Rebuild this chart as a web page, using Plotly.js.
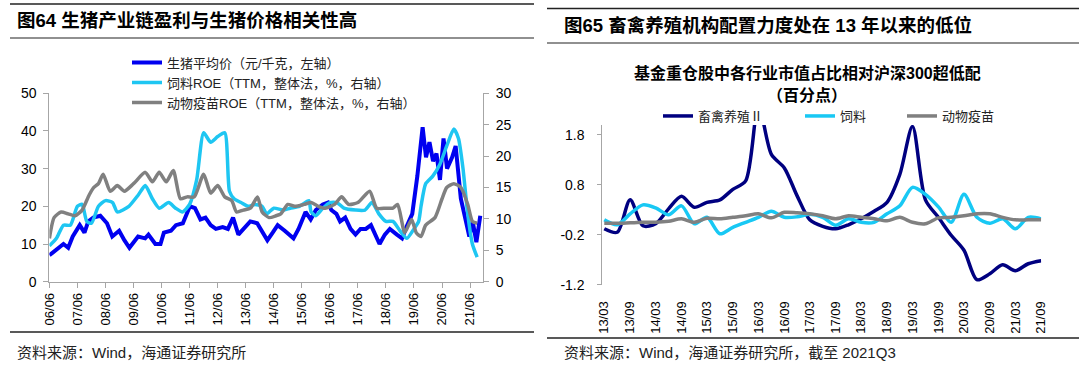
<!DOCTYPE html>
<html><head><meta charset="utf-8">
<script src="https://cdn.plot.ly/plotly-3.0.1.min.js"></script>
<style>html,body{margin:0;padding:0;background:#fff;}#chart{width:1080px;height:365px;}
svg text{font-kerning:none;font-feature-settings:"kern" 0,"palt" 0,"halt" 0,"chws" 0;text-spacing-trim:space-all;}</style>
</head><body><div id="chart"></div>
<script>
// ---------- Left chart (图64) ----------
const pigDates = ['2006-06-01','2006-09-01','2006-12-01','2007-02-01','2007-04-01','2007-07-01','2007-09-01','2007-10-20','2007-12-25','2008-03-25','2008-06-20','2008-08-28','2008-11-25','2009-02-01','2009-04-08','2009-07-30','2009-10-30','2009-12-12','2010-03-12','2010-05-18','2010-07-01','2010-10-01','2010-12-05','2011-03-05','2011-06-05','2011-08-10','2011-10-20','2011-12-25','2012-03-01','2012-05-08','2012-08-05','2012-10-12','2012-12-18','2013-02-25','2013-05-22','2013-07-30','2013-10-28','2014-01-05','2014-03-10','2014-05-18','2014-07-22','2014-10-22','2015-02-13','2015-04-20','2015-07-20','2015-09-25','2015-12-01','2016-03-01','2016-05-08','2016-06-20','2016-08-25','2016-10-12','2016-12-18','2017-02-25','2017-05-01','2017-07-05','2017-09-12','2017-11-18','2018-01-25','2018-03-10','2018-05-18','2018-07-22','2018-10-22','2018-12-28','2019-03-05','2019-05-10','2019-07-15','2019-09-22','2019-11-05','2019-12-20','2020-02-05','2020-03-20','2020-05-05','2020-06-20','2020-08-05','2020-10-10','2020-11-25','2021-02-01','2021-04-08','2021-05-22','2021-07-05','2021-08-22','2021-10-12'];
const pigPrice = [7,8.5,10,9,12,15,13,16,17,17.5,15.5,12,13.5,11,9,12,11.5,12.5,10,10,13,13.5,15,15.5,20,19.5,16.5,17,15,14,14.5,14,17,12.5,14.5,16,15.5,13,11,13,15,13.5,11.5,14,18.5,16.5,19,20.5,21,19,18,16,17,14,12.5,14,14,15,12,10,12.5,14,12.5,11.5,15,18,28,41,33,37,32,34,27,38,30,33,36,22,16,12,16,10.5,17.5];

const feedDates = ['2006-06-01','2006-09-01','2006-12-01','2007-03-01','2007-06-01','2007-08-01','2007-10-01','2007-12-01','2008-03-01','2008-06-01','2008-09-01','2008-11-01','2009-04-01','2009-08-01','2009-11-01','2010-02-01','2010-05-01','2010-09-01','2010-12-01','2011-03-01','2011-06-01','2011-09-01','2011-12-01','2012-03-01','2012-06-01','2012-09-01','2012-11-01','2013-01-01','2013-04-01','2013-07-01','2013-10-01','2014-01-01','2014-03-01','2014-06-01','2014-10-01','2015-01-01','2015-05-01','2015-09-01','2015-10-01','2015-12-01','2016-03-01','2016-06-01','2016-09-01','2016-12-01','2017-05-01','2017-09-01','2017-12-01','2018-03-01','2018-06-01','2018-09-01','2018-12-01','2019-03-01','2019-06-01','2019-08-01','2019-09-01','2019-11-01','2020-02-01','2020-05-01','2020-08-01','2020-11-01','2021-01-01','2021-03-01','2021-05-01','2021-07-01','2021-09-01'];
const feedROE = [5.7,6.9,9.0,9.0,12.0,12.3,9.6,9.3,12,12.9,12.6,11.1,12,13.8,15.3,13.2,11.7,12.6,11.7,11.1,12.3,16.2,23.7,22.2,23.1,23.7,14.4,13.2,12.6,12,12.3,12,10.8,11.7,11.4,11.7,12,12.9,11.1,10.5,11.7,12.6,12.6,11.7,11.4,11.4,12.6,10.8,9.6,9.6,8.1,6.9,8.4,9.6,12,15.6,16.8,18.6,21.6,24.3,22.8,18,10.8,6,3.9];

const vacDates = ['2006-06-01','2006-08-01','2006-11-01','2007-02-01','2007-05-01','2007-08-01','2007-11-01','2008-01-01','2008-03-01','2008-05-01','2008-08-01','2008-11-01','2009-02-01','2009-06-01','2009-11-01','2010-02-01','2010-05-01','2010-08-01','2010-11-01','2011-02-01','2011-05-01','2011-08-01','2011-12-01','2012-03-01','2012-06-01','2012-09-01','2012-12-01','2013-02-01','2013-05-01','2013-08-01','2013-11-01','2014-01-01','2014-04-01','2014-07-01','2014-09-01','2014-12-01','2015-03-01','2015-07-01','2015-10-01','2016-01-01','2016-04-01','2016-08-01','2016-11-01','2017-02-01','2017-06-01','2017-11-01','2018-02-01','2018-06-01','2018-09-01','2018-11-01','2019-02-01','2019-05-01','2019-07-01','2019-09-01','2019-11-01','2020-03-01','2020-06-01','2020-08-01','2020-11-01','2021-02-01','2021-05-01','2021-07-01','2021-09-01'];
const vacROE = [6.9,10.2,11.1,10.8,10.5,11.4,13.8,15,15.6,17.1,14.4,15.3,14.4,15.6,17.4,15.9,17.4,15.9,17.7,13.2,13.5,13.5,17.1,14.1,15.3,13.5,12.9,11.1,11.4,11.7,13.5,11.1,10.2,10.5,10.8,12.3,12,12.3,12.6,12,11.7,12.3,13.5,12.3,12.6,14.4,11.7,11.7,11.7,12.3,7.8,9.9,7.8,7.2,9,10.2,13.2,15,15.6,15,12.3,9.6,9.3];

const leftNames = ['生猪平均价（元/千克，左轴）','饲料ROE（TTM，整体法，%，右轴）','动物疫苗ROE（TTM，整体法，%，右轴）'];

// ---------- Right chart (图65) ----------
const quarters = ['2013-03-01','2013-06-01','2013-09-01','2013-12-01','2014-03-01','2014-06-01','2014-09-01','2014-12-01','2015-03-01','2015-06-01','2015-09-01','2015-12-01','2016-03-01','2016-06-01','2016-09-01','2016-12-01','2017-03-01','2017-06-01','2017-09-01','2017-12-01','2018-03-01','2018-06-01','2018-09-01','2018-12-01','2019-03-01','2019-06-01','2019-09-01','2019-12-01','2020-03-01','2020-06-01','2020-09-01','2020-12-01','2021-03-01','2021-06-01','2021-09-01'];
const livestock = [-0.08,-0.15,0.5,-0.02,0.02,0.32,0.57,0.35,0.45,0.5,0.71,0.88,2.4,1.41,1.14,0.58,0.1,-0.03,-0.08,0.0,0.12,0.27,0.45,1.01,1.97,0.5,0.15,-0.21,-0.51,-1.1,-0.98,-0.8,-0.92,-0.78,-0.72];
const feed = [0.1,0.0,0.22,0.4,0.34,0.2,0.38,0.02,0.15,-0.18,-0.05,0.05,0.15,0.27,0.15,0.16,0.21,0.15,-0.01,0.12,0.05,0.05,0.22,0.38,0.75,0.61,0.36,0.05,0.61,0.15,0.03,0.12,-0.08,0.15,0.12];
const vaccine = [0.03,0.03,0.04,0.05,0.05,0.07,0.12,0.05,0.13,0.12,0.15,0.18,0.22,0.14,0.25,0.24,0.22,0.18,0.12,0.18,0.15,0.12,0.08,0.15,0.05,0.02,0.14,0.15,0.18,0.22,0.22,0.15,0.1,0.1,0.1];
const rightNames = ['畜禽养殖Ⅱ','饲料','动物疫苗'];
const rightYTicks = [-1.2,-0.2,0.8,1.8];

const W = 1080, H = 365;
const X = p => p / W, Y = p => 1 - p / H;
const NUM = 'Liberation Sans, Arial, Noto Sans CJK SC, sans-serif';
const CJK = 'Liberation Sans, Noto Sans CJK SC, sans-serif';
const AX = '#A6A6A6';

const traces = [
  {x: pigDates, y: pigPrice, name: leftNames[0], type: 'scatter', mode: 'lines', xaxis: 'x', yaxis: 'y',
   line: {color: '#0000F0', width: 4}, legend: 'legend'},
  {x: feedDates, y: feedROE, name: leftNames[1], type: 'scatter', mode: 'lines', xaxis: 'x', yaxis: 'y2',
   line: {color: '#1EC6F2', width: 3.5, shape: 'spline', smoothing: 0.6}, legend: 'legend2'},
  {x: vacDates, y: vacROE, name: leftNames[2], type: 'scatter', mode: 'lines', xaxis: 'x', yaxis: 'y2',
   line: {color: '#808080', width: 3.5, shape: 'spline', smoothing: 0.6}, legend: 'legend3'},
  {x: quarters, y: livestock, name: rightNames[0], type: 'scatter', mode: 'lines', xaxis: 'x2', yaxis: 'y3',
   line: {color: '#000080', width: 3.5, shape: 'spline', smoothing: 0.8}, legend: 'legend4'},
  {x: quarters, y: feed, name: rightNames[1], type: 'scatter', mode: 'lines', xaxis: 'x2', yaxis: 'y3',
   line: {color: '#18C8F4', width: 3.5, shape: 'spline', smoothing: 0.8}, legend: 'legend5'},
  {x: quarters, y: vaccine, name: rightNames[2], type: 'scatter', mode: 'lines', xaxis: 'x2', yaxis: 'y3',
   line: {color: '#808080', width: 3.5, shape: 'spline', smoothing: 0.8}, legend: 'legend6'}
];

function leg(xp, yp) {
  return {x: X(xp), y: Y(yp), xanchor: 'left', yanchor: 'middle', bgcolor: 'rgba(0,0,0,0)', borderwidth: 0,
          font: {family: CJK, size: 13, color: '#222'}};
}
function hline(y, x0, x1, w) {
  return {type: 'line', xref: 'paper', yref: 'paper', x0: X(x0), x1: X(x1), y0: Y(y), y1: Y(y),
          line: {color: '#222', width: w}};
}
function txt(t, xp, yp, size, bold, anchor, color) {
  return {text: t, x: X(xp), y: Y(yp), xref: 'paper', yref: 'paper', xanchor: anchor || 'left', yanchor: 'middle',
          showarrow: false, font: {family: CJK, size: size, color: color || '#000', weight: bold ? 'bold' : 'normal'}};
}

const layout = {
  width: W, height: H, margin: {l: 0, r: 0, t: 0, b: 0},
  paper_bgcolor: '#fff', plot_bgcolor: 'rgba(0,0,0,0)', showlegend: true,
  xaxis: {domain: [X(49.4), X(482.9)], type: 'date', range: ['2006-06-01', '2021-11-15'],
          tick0: '2006-06-01', dtick: 'M12', tickformat: '%y/%m', tickangle: -90,
          ticks: 'outside', ticklen: 5, tickcolor: AX, showline: true, linecolor: AX, linewidth: 1,
          showgrid: false, zeroline: false, anchor: 'y', tickfont: {family: NUM, size: 13, color: '#000'}},
  yaxis: {domain: [Y(281.7), Y(93.2)], range: [0, 50], dtick: 10, ticks: 'outside', ticklen: 5, tickcolor: AX,
          showline: true, linecolor: AX, showgrid: false, zeroline: false, anchor: 'x', ticklabelstandoff: 4,
          tickfont: {family: NUM, size: 14, color: '#000'}},
  yaxis2: {overlaying: 'y', side: 'right', anchor: 'x', range: [0, 30], dtick: 5, ticks: 'outside', ticklen: 5,
           tickcolor: AX, showline: true, linecolor: AX, showgrid: false, zeroline: false, ticklabelstandoff: 4,
           tickfont: {family: NUM, size: 14, color: '#000'}},
  xaxis2: {domain: [X(602.3), X(1041.2)], type: 'date', range: ['2013-02-15', '2021-09-01'],
           tick0: '2013-03-01', dtick: 'M6', tickformat: '%y/%m', tickangle: -90, ticks: '', showline: false,
           showgrid: false, zeroline: false, anchor: 'y3', ticklabelstandoff: 13,
           tickfont: {family: NUM, size: 13, color: '#000'}},
  xaxis3: {overlaying: 'x2', matches: 'x2', type: 'date', anchor: 'free', position: Y(225.3),
           tick0: '2013-03-01', dtick: 'M6', ticks: 'outside', ticklen: 4, tickcolor: AX, showline: true,
           linecolor: AX, showticklabels: false, showgrid: false, zeroline: false},
  yaxis3: {domain: [Y(284.7), Y(125)], range: [-1.2, 2.0], tickvals: rightYTicks, ticktext: rightYTicks.map(String),
           ticks: 'outside', ticklen: 4, tickcolor: AX, showline: true, linecolor: AX, showgrid: false,
           zeroline: false, anchor: 'x2', ticklabelstandoff: 10, tickfont: {family: NUM, size: 14, color: '#000'}},
  legend: leg(127, 62.5), legend2: leg(127, 82.5), legend3: leg(127, 102.5),
  legend4: leg(658, 116), legend5: leg(800, 116), legend6: leg(902, 116),
  shapes: [hline(4, 10, 534, 1.6), hline(38, 10, 534, 1.2), hline(8.5, 547, 1079, 1.6), hline(43, 547, 1079, 1.2),
           hline(332, 10, 534, 1.6), hline(338, 547, 1079, 1.6)],
  annotations: [
    txt('图64 生猪产业链盈利与生猪价格相关性高', 15, 20, 18.5, true),
    txt('图65 畜禽养殖机构配置力度处在 13 年以来的低位', 562, 25, 18.5, true),
    txt('基金重仓股中各行业市值占比相对沪深300超低配', 807, 73, 16, true, 'center'),
    txt('（百分点）', 807, 95, 16, true, 'center'),
    txt('资料来源：Wind，海通证券研究所', 15, 352, 15, false, 'left', '#222'),
    txt('资料来源：Wind，海通证券研究所，截至 2021Q3', 562, 352, 15, false, 'left', '#222')
  ]
};
Plotly.newPlot('chart', traces, layout, {displayModeBar: false, responsive: false, staticPlot: true});
</script></body></html>
